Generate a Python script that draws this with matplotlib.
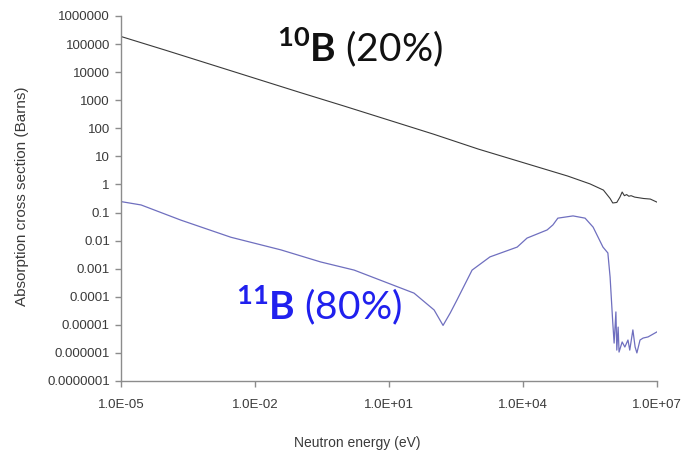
import numpy as np
import matplotlib
matplotlib.use("Agg")
import matplotlib.pyplot as plt
from matplotlib.ticker import FixedLocator, FixedFormatter, NullLocator

# ---- data (log10 of energy in eV, log10 of cross-section in barns) ----
b10_logE = [-5, -4, -3, -2, -1, 0, 1, 2, 3, 4, 5, 5.5, 5.8, 5.95, 6.01, 6.1,
            6.17, 6.22, 6.27, 6.32, 6.37, 6.42, 6.5, 6.7, 6.85, 7.0]
b10_logS = [5.27, 4.78, 4.28, 3.78, 3.28, 2.79, 2.29, 1.79, 1.26, 0.78, 0.30,
            0.02, -0.20, -0.50, -0.66, -0.64, -0.45, -0.27, -0.40, -0.36,
            -0.42, -0.40, -0.45, -0.50, -0.52, -0.63]

b11_logE = [-5, -4.55, -3.66, -2.54, -1.42, -0.53, 0.22, 1.20, 1.56, 2.01,
            2.21, 2.37, 2.52, 2.86, 3.26, 3.87, 4.09, 4.54, 4.67, 4.78, 5.12,
            5.39, 5.57, 5.79, 5.90, 5.95, 6.01, 6.04, 6.08, 6.10, 6.13, 6.15,
            6.22, 6.28, 6.35, 6.39, 6.46, 6.51, 6.55, 6.62, 6.69, 6.80, 7.00]
b11_logS = [-0.61, -0.73, -1.27, -1.88, -2.33, -2.76, -3.05, -3.65, -3.87,
            -4.47, -5.02, -4.58, -4.12, -3.05, -2.58, -2.23, -1.91, -1.62,
            -1.44, -1.20, -1.12, -1.20, -1.52, -2.23, -2.44, -3.30, -4.93,
            -5.65, -4.54, -5.90, -5.08, -5.97, -5.61, -5.79, -5.54, -5.90,
            -5.18, -5.79, -6.00, -5.54, -5.47, -5.43, -5.25]

x_ticks = [1e-5, 1e-2, 1e1, 1e4, 1e7]
x_tick_labels = ["1.0E-05", "1.0E-02", "1.0E+01", "1.0E+04", "1.0E+07"]
y_ticks = [1e-7, 1e-6, 1e-5, 1e-4, 1e-3, 1e-2, 1e-1, 1, 10, 100, 1000,
           10000, 100000, 1000000]
y_tick_labels = ["0.0000001", "0.000001", "0.00001", "0.0001", "0.001",
                 "0.01", "0.1", "1", "10", "100", "1000", "10000",
                 "100000", "1000000"]

label_10 = r"$^{\mathbf{10}}\mathbf{B}$ (20%)"
label_11 = r"$^{\mathbf{11}}\mathbf{B}$ (80%)"
x_title = "Neutron energy (eV)"
y_title = "Absorption cross section (Barns)"

plt.rcParams['mathtext.fontset'] = 'custom'
plt.rcParams['mathtext.rm'] = 'Lato'
plt.rcParams['mathtext.bf'] = 'Lato:bold'

W, H = 685, 454
fig = plt.figure(figsize=(6.85, 4.54), dpi=100)
ax = fig.add_axes([121/W, 1-381/H, (657-121)/W, (381-16)/H])

ax.plot(10**np.array(b10_logE), 10**np.array(b10_logS), color="#3a3a3a", lw=0.8)
ax.plot(10**np.array(b11_logE), 10**np.array(b11_logS), color="#6f6fbf", lw=0.9)

ax.set_xscale("log")
ax.set_yscale("log")
ax.set_xlim(1e-5, 1e7)
ax.set_ylim(1e-7, 1e6)

ax.xaxis.set_major_locator(FixedLocator(x_ticks))
ax.xaxis.set_major_formatter(FixedFormatter(x_tick_labels))
ax.xaxis.set_minor_locator(NullLocator())
ax.yaxis.set_major_locator(FixedLocator(y_ticks))
ax.yaxis.set_major_formatter(FixedFormatter(y_tick_labels))
ax.yaxis.set_minor_locator(NullLocator())

for s in ["top", "right"]:
    ax.spines[s].set_visible(False)
for s in ["left", "bottom"]:
    ax.spines[s].set_color("#8c8c8c")
    ax.spines[s].set_linewidth(1.0)

ax.tick_params(axis="both", direction="out", length=4, width=1.0,
               color="#8c8c8c", labelsize=9.5, labelcolor="#3a3a3a")
ax.tick_params(axis="x", pad=9)
ax.tick_params(axis="y", pad=4)
for t in ax.get_xticklabels() + ax.get_yticklabels():
    t.set_fontfamily("Liberation Sans")

fig.text(357/W, 1-443/H, x_title, fontsize=10, family="Liberation Sans",
         color="#3a3a3a", ha="center", va="center")
fig.text(22/W, 1-196/H, y_title, fontsize=11, family="Liberation Sans",
         color="#3a3a3a", ha="center", va="center", rotation=90)

fig.text(277/W, 1-61/H, label_10, fontsize=28, family="Lato",
         color="#111111", va="baseline", ha="left")
fig.text(236/W, 1-319/H, label_11, fontsize=28, family="Lato",
         color="#2020ee", va="baseline", ha="left")

fig.savefig("out.png", dpi=100, facecolor="white")
